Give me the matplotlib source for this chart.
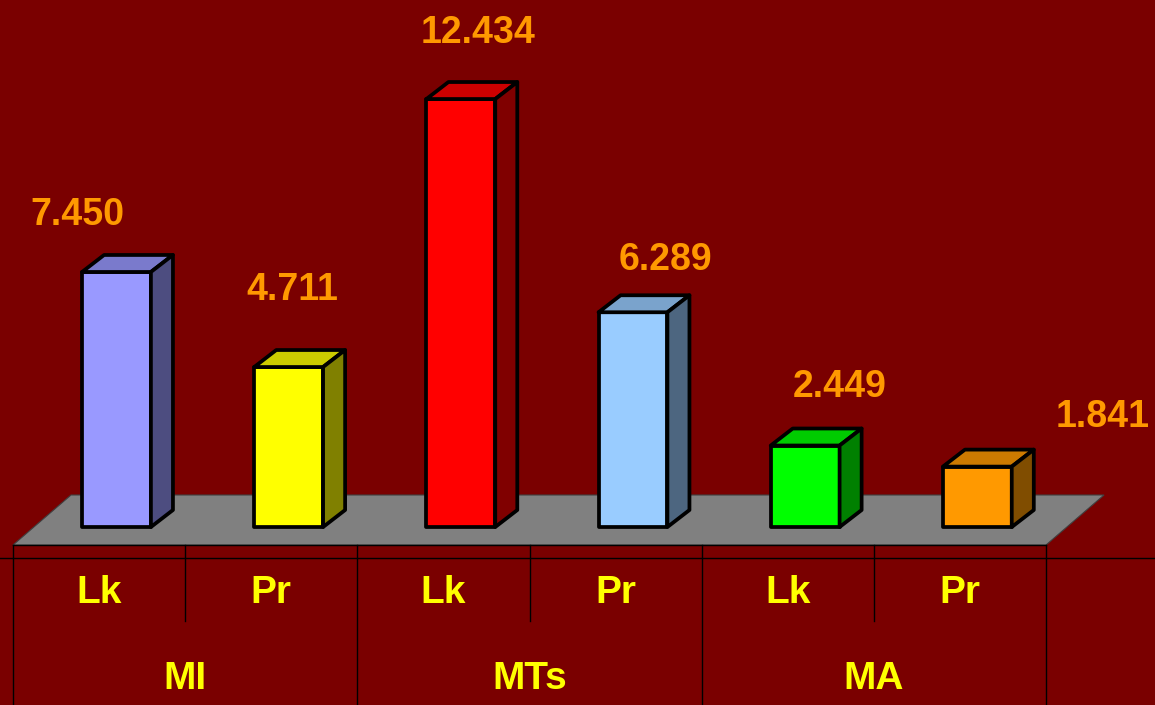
import matplotlib.pyplot as plt
from matplotlib.patches import Polygon

# --- data ---
groups = ["MI", "MTs", "MA"]
subgroups = ["Lk", "Pr"]
values = [7.450, 4.711, 12.434, 6.289, 2.449, 1.841]
value_labels = ["7.450", "4.711", "12.434", "6.289", "2.449", "1.841"]
front_colors = ["#9999FF", "#FFFF00", "#FF0000", "#99CCFF", "#00FF00", "#FF9900"]

# --- layout (data units: x = slot index, y = value) ---
BG = "#7A0000"
bar_left = -0.099
bar_width = 0.40
bar_base = 0.10
depth_x, depth_y = 0.128, 0.49
floor_front, floor_back, floor_shift = -0.418, 1.023, 0.337
label_dx = [-0.128, 0.122, 0.203, 0.29, 0.30, 0.83]
label_dy = [1.35, 1.93, 1.61, 1.22, 1.40, 1.14]

font = dict(family=["Liberation Sans"], fontweight="bold")


def shade(hex_color, f):
    r, g, b = (int(hex_color[i:i + 2], 16) / 255 for i in (1, 3, 5))
    return (r * f, g * f, b * f)


fig = plt.figure(figsize=(11.55, 7.05), dpi=100, facecolor=BG)
ax = fig.add_axes([0, 0, 1, 1])
ax.set_facecolor(BG)
ax.set_xlim(-0.5755, 6.133)
ax.set_ylim(-5.029, 15.288)
ax.axis("off")

n = len(values)

# floor
floor = Polygon([(-0.5, floor_front), (n - 0.5, floor_front),
                 (n - 0.5 + floor_shift, floor_back), (-0.5 + floor_shift, floor_back)],
                closed=True, facecolor="#808080", edgecolor="#404040", lw=0.8, zorder=1)
ax.add_patch(floor)

# bars
for i, v in enumerate(values):
    x0 = i + bar_left
    x1 = x0 + bar_width
    c = front_colors[i]
    kw = dict(closed=True, edgecolor="black", lw=2.7, joinstyle="round", zorder=3)
    ax.add_patch(Polygon([(x0, bar_base), (x1, bar_base), (x1, v), (x0, v)],
                         facecolor=c, **kw))
    ax.add_patch(Polygon([(x0, v), (x1, v), (x1 + depth_x, v + depth_y), (x0 + depth_x, v + depth_y)],
                         facecolor=shade(c, 0.8), **kw))
    ax.add_patch(Polygon([(x1, bar_base), (x1 + depth_x, bar_base + depth_y),
                          (x1 + depth_x, v + depth_y), (x1, v)],
                         facecolor=shade(c, 0.5), **kw))
    ax.text(i + label_dx[i], v + label_dy[i], value_labels[i], color="#FF9900",
            fontsize=27, ha="center", va="baseline", zorder=4, **font)

# table lines
line_kw = dict(color="black", lw=1.0, zorder=2)
ax.plot([-0.5, n - 0.5], [floor_front, floor_front], **line_kw)
ax.plot([-0.6, 6.2], [-0.793, -0.793], **line_kw)
for k in range(n + 1):
    bottom = -2.60 if k % 2 == 1 else -5.1
    ax.plot([k - 0.5, k - 0.5], [floor_front, bottom], **line_kw)

# category labels
for i in range(n):
    ax.text(i, -2.09, subgroups[i % 2], color="#FFFF00", fontsize=28,
            ha="center", va="baseline", **font)
for g, name in enumerate(groups):
    ax.text(2 * g + 0.5, -4.58, name, color="#FFFF00", fontsize=28,
            ha="center", va="baseline", **font)

fig.savefig("out.png", dpi=100, facecolor=BG)
